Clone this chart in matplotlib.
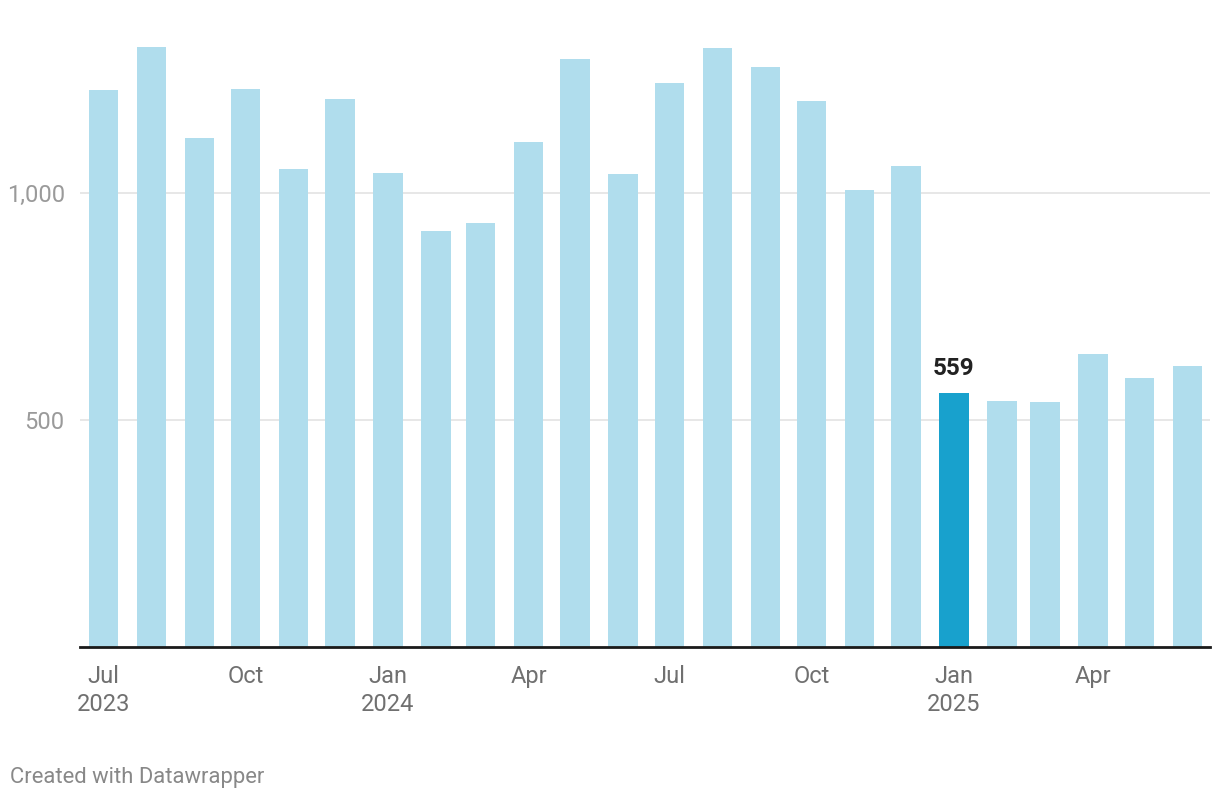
import pandas as pd
import matplotlib
matplotlib.use("Agg")
import matplotlib.pyplot as plt

plt.rcParams["font.family"] = ["Roboto", "DejaVu Sans"]

# ── Data ────────────────────────────────────────────────────
months = pd.date_range("2023-07-01", "2025-06-01", freq="MS")
values = [1227, 1322, 1121, 1230, 1053, 1207, 1044, 916, 934, 1113, 1296, 1042,
          1243, 1320, 1278, 1203, 1007, 1060, 559, 543, 541, 645, 594, 620]
highlight = "2025-01-01"

tick_dates = ["2023-07-01", "2023-10-01", "2024-01-01", "2024-04-01", "2024-07-01",
              "2024-10-01", "2025-01-01", "2025-04-01"]
tick_labels = ["Jul\n2023", "Oct", "Jan\n2024", "Apr", "Jul", "Oct", "Jan\n2025", "Apr"]

# ── Plot ────────────────────────────────────────────────────
W, H = 1220, 800
fig = plt.figure(figsize=(W / 100, H / 100), dpi=100)
ax = fig.add_axes([80 / W, 153 / H, 1130 / W, 617 / H])

colors = ["#18a1cd" if d == pd.Timestamp(highlight) else "#b0dded" for d in months]
ax.bar(months, values, width=19, color=colors, zorder=2)

ax.set_xlim(months[0] - pd.Timedelta(days=15.2), months[-1] + pd.Timedelta(days=14.6))
ax.set_ylim(0, 1360)

ax.set_yticks([500, 1000])
ax.set_yticklabels(["500", "1,000"])
ax.yaxis.grid(True, color="#e3e3e3", linewidth=1.2, zorder=0)
ax.tick_params(axis="y", length=0, pad=11, labelsize=17, labelcolor="#9a9a9a")

ax.set_xticks(pd.to_datetime(tick_dates))
ax.set_xticklabels(tick_labels, linespacing=1.3)
ax.tick_params(axis="x", length=0, pad=13, labelsize=17, labelcolor="#707070")

for s in ["top", "right", "left"]:
    ax.spines[s].set_visible(False)
ax.spines["bottom"].set_color("#1a1a1a")
ax.spines["bottom"].set_linewidth(2)
ax.spines["bottom"].set_zorder(3)

# value label on highlighted bar
hi = list(months).index(pd.Timestamp(highlight))
ax.annotate(f"{values[hi]}", xy=(months[hi], values[hi]), xytext=(0, 10),
            textcoords="offset points", ha="center", va="bottom",
            fontsize=17.5, fontweight="bold", color="#222222")

fig.text(10 / W, 1 - 777 / H, "Created with Datawrapper", fontsize=15.8,
         color="#888888", va="center", ha="left")

plt.savefig("out.png", dpi=100)
plt.close()
